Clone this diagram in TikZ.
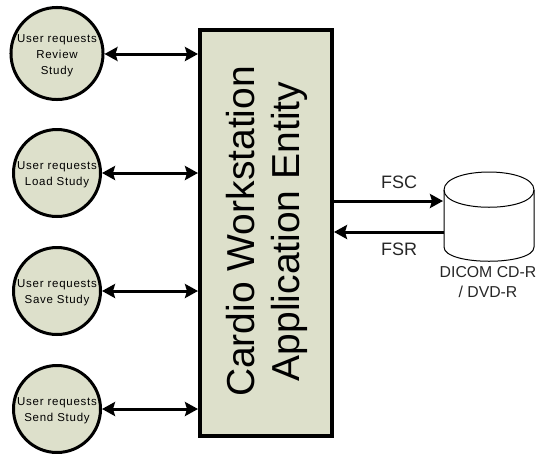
\documentclass[tikz,border=0pt]{standalone}
\usepackage{fontspec}
\setmainfont{Liberation Sans}
\newfontfamily\spacedfont[LetterSpace=6.5]{Liberation Sans}
\newcommand{\lowerstrut}{\rule{0pt}{11.5pt}}
\definecolor{fillgreen}{HTML}{DDE0CB}
\usetikzlibrary{arrows.meta,calc}
\tikzset{
  x=1pt,y=-1pt,
  usernode/.style={circle,draw=black,line width=3pt,fill=fillgreen,minimum size=87pt,inner sep=0pt,align=center,font=\spacedfont\fontsize{11.5}{16}\selectfont},
  conn/.style={line width=3pt,>={Stealth[length=13pt,width=14pt,inset=2pt]}},
  lbl/.style={inner sep=0pt,font=\fontsize{18}{20}\selectfont,text=black!85},
  dblbl/.style={inner sep=0pt,align=center,font=\fontsize{15.8}{20}\selectfont,text=black!85},
}
\begin{document}
\begin{tikzpicture}
\useasboundingbox (0,0) rectangle (537,453);
\node[draw=black,line width=4pt,fill=fillgreen,minimum width=132pt,minimum height=406pt,inner sep=0pt] (ae) at (266,232.5) {};
\node[rotate=90,inner sep=0pt,font=\fontsize{39}{45}\selectfont,align=center] (aetext) at (266.5,231.5) {Cardio Workstation\\Application Entity};
\node[usernode] (u1) at (57,53.5) {\lowerstrut User requests\\Review\\Study};
\node[usernode] (u2) at (57,173) {\lowerstrut User requests\\Load Study};
\node[usernode] (u3) at (57,291) {\lowerstrut User requests\\Save Study};
\node[usernode] (u4) at (57,409) {\lowerstrut User requests\\Send Study};
\draw[conn,<->] (u1.east |- 0,54) -- (ae.west |- 0,54);
\draw[conn,<->] (u2.east) -- (ae.west |- u2.east);
\draw[conn,<->] (u3.east) -- (ae.west |- u3.east);
\draw[conn,<->] (u4.east) -- (ae.west |- u4.east);
% cylinder
\path[draw=black,line width=1pt,fill=white] (444,190) .. controls (444,166) and (534,166) .. (534,190) -- (534,247) .. controls (534,266) and (444,266) .. (444,247) -- cycle;
\draw[line width=1pt] (444,190) .. controls (444,213) and (534,213) .. (534,190);
\coordinate (dbin) at (443,201);
\coordinate (dbout) at (444,232);
\draw[conn,->] (ae.east |- dbin) -- (dbin);
\draw[conn,->] (dbout) -- (ae.east |- dbout);
\node[lbl] (fsc) at (399,182) {FSC};
\node[lbl] (fsr) at (399,249) {FSR};
\node[dblbl] (db) at (488,282) {DICOM CD-R\\/ DVD-R};
\end{tikzpicture}
\end{document}
